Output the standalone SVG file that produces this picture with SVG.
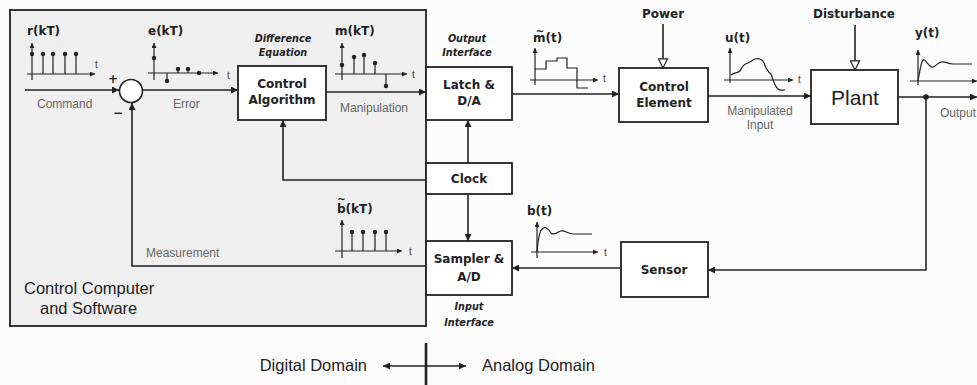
<svg xmlns="http://www.w3.org/2000/svg" width="977" height="385" viewBox="0 0 977 385">
<defs>
<marker id="ar" viewBox="0 0 10 10" refX="10" refY="5" markerWidth="9" markerHeight="7" markerUnits="userSpaceOnUse" orient="auto-start-reverse"><path d="M0,0 L10,5 L0,10 z" fill="#222"/></marker>
<marker id="sa" viewBox="0 0 10 10" refX="10" refY="5" markerWidth="7" markerHeight="5" markerUnits="userSpaceOnUse" orient="auto"><path d="M0,0 L10,5 L0,10 z" fill="#222"/></marker>
<marker id="oa" viewBox="0 0 12 12" refX="11" refY="6" markerWidth="11" markerHeight="11" markerUnits="userSpaceOnUse" orient="auto"><path d="M1,1 L11,6 L1,11 z" fill="#fff" stroke="#222" stroke-width="1.3"/></marker>
</defs>
<style>
.blk{fill:#fff;stroke:#222;stroke-width:1.8}
.cn{fill:none;stroke:#222;stroke-width:1.6;marker-end:url(#ar)}
.ax{fill:none;stroke:#222;stroke-width:1.2;marker-end:url(#sa)}
.sig{fill:none;stroke:#222;stroke-width:1.2}
.dot{fill:#222}
.b{font-family:"DejaVu Sans",sans-serif;font-weight:bold;font-size:12px;fill:#222;text-anchor:middle}
.bi{font-family:"DejaVu Sans",sans-serif;font-weight:bold;font-style:italic;font-size:9.7px;fill:#222;text-anchor:middle}
.g{font-family:"Liberation Sans",Arial,sans-serif;font-size:12px;fill:#666}
.gl{font-family:"DejaVu Sans",sans-serif;font-weight:bold;font-size:12px;fill:#222}
.tl{font-family:"DejaVu Sans",sans-serif;font-weight:bold;font-size:10px;fill:#222;text-anchor:middle}
.t{font-family:"Liberation Sans",Arial,sans-serif;font-size:10px;fill:#444}
.big{font-family:"Liberation Sans",Arial,sans-serif;font-size:16.5px;fill:#222}
</style>
<rect x="0" y="0" width="977" height="385" fill="#fcfcfc"/>
<rect id="computer" x="10" y="10" width="416" height="316" fill="#efefef" stroke="#222" stroke-width="1.8"/>

<g id="connectors">
<path class="cn" d="M25,90 H119"/>
<path class="cn" d="M143,90 H238"/>
<path class="cn" d="M326,92 H426"/>
<path class="cn" d="M512,94 H619"/>
<path class="cn" d="M708,96 H811"/>
<path class="cn" d="M898,97 H977"/>
<circle class="dot" cx="926" cy="97" r="2.8"/>
<path class="cn" d="M926,97 V270 H708"/>
<path class="cn" d="M621,268 H512"/>
<path class="cn" d="M426,266 H132 V103"/>
<path class="cn" d="M426,180 H283 V120"/>
<path class="cn" d="M468,163 V120"/>
<path class="cn" d="M468,194 V241"/>
<path d="M663,24 V68" fill="none" stroke="#222" stroke-width="1.6" marker-end="url(#oa)"/>
<path d="M855,25 V70" fill="none" stroke="#222" stroke-width="1.6" marker-end="url(#oa)"/>
</g>

<g id="sum">
<circle cx="131" cy="91" r="11.5" fill="#fff" stroke="#222" stroke-width="1.6"/>
<text x="113" y="83" class="gl" text-anchor="middle">+</text>
<text x="118" y="117" class="gl" text-anchor="middle">−</text>
</g>

<g id="algorithm">
<rect class="blk" x="238" y="66" width="88" height="54"/>
<text class="b" x="282" y="88">Control</text>
<text class="b" x="282" y="104">Algorithm</text>
<text class="bi" x="283" y="42">Difference</text>
<text class="bi" x="283" y="56">Equation</text>
</g>

<g id="latch">
<rect class="blk" x="426" y="67" width="86" height="53"/>
<text class="b" x="469" y="89">Latch &amp;</text>
<text class="b" x="469" y="105">D/A</text>
<text class="bi" x="467" y="42">Output</text>
<text class="bi" x="467" y="56">Interface</text>
</g>

<g id="clock">
<rect class="blk" x="426" y="163" width="86" height="31"/>
<text class="b" x="469" y="183">Clock</text>
</g>

<g id="sampler">
<rect class="blk" x="426" y="241" width="86" height="54"/>
<text class="b" x="469" y="263">Sampler &amp;</text>
<text class="b" x="469" y="281">A/D</text>
<text class="bi" x="469" y="310">Input</text>
<text class="bi" x="469" y="326">Interface</text>
</g>

<g id="control-element">
<rect class="blk" x="619" y="68" width="89" height="54"/>
<text class="b" x="664" y="91">Control</text>
<text class="b" x="664" y="107">Element</text>
<text class="b" x="663" y="18">Power</text>
</g>

<g id="plant">
<rect class="blk" x="811" y="70" width="87" height="54"/>
<text x="855" y="104.5" font-family="Liberation Sans, Arial, sans-serif" font-size="21" fill="#222" text-anchor="middle">Plant</text>
<text class="b" x="854" y="18">Disturbance</text>
</g>

<g id="sensor">
<rect class="blk" x="621" y="242" width="87" height="55"/>
<text class="b" x="664" y="274">Sensor</text>
</g>

<g id="labels">
<text class="g" x="37" y="108">Command</text>
<text class="g" x="173" y="108">Error</text>
<text class="g" x="374" y="112" text-anchor="middle">Manipulation</text>
<text class="g" x="760" y="115" text-anchor="middle">Manipulated</text>
<text class="g" x="760" y="129" text-anchor="middle">Input</text>
<text class="g" x="940" y="117">Output</text>
<text class="g" x="146" y="257">Measurement</text>
<text class="big" x="24" y="294">Control Computer</text>
<text class="big" x="40" y="314">and Software</text>
</g>

<g id="domain">
<path d="M383,366 H466" fill="none" stroke="#222" stroke-width="1.6" marker-start="url(#ar)" marker-end="url(#ar)"/>
<path d="M426,343 V385" stroke="#222" stroke-width="2.6"/>
<text class="big" x="367" y="371" text-anchor="end">Digital Domain</text>
<text class="big" x="482" y="371">Analog Domain</text>
</g>

<g id="graph-r">
<text class="gl" x="27" y="35">r(kT)</text>
<path class="ax" d="M32,80 V43"/>
<path class="ax" d="M27,74 H95"/>
<path class="sig" d="M43,74 V54 M53,74 V54 M65,74 V54 M76,74 V54"/>
<circle class="dot" cx="32" cy="54" r="2.2"/><circle class="dot" cx="43" cy="54" r="2.2"/><circle class="dot" cx="53" cy="54" r="2.2"/><circle class="dot" cx="65" cy="54" r="2.2"/><circle class="dot" cx="76" cy="54" r="2.2"/>
<text class="t" x="95" y="68">t</text>
</g>

<g id="graph-e">
<text class="gl" x="148" y="35">e(kT)</text>
<path class="ax" d="M154,80 V43"/>
<path class="ax" d="M148,73 H218"/>
<path class="sig" d="M167,73 V81 M178,73 V69 M188,73 V69"/>
<circle class="dot" cx="154" cy="58" r="2.2"/><circle class="dot" cx="167" cy="81" r="2.2"/><circle class="dot" cx="178" cy="69" r="2.2"/><circle class="dot" cx="188" cy="69" r="2.2"/><circle class="dot" cx="199" cy="73" r="2.2"/>
<text class="t" x="227" y="79">t</text>
</g>

<g id="graph-m">
<text class="gl" x="335" y="35">m(kT)</text>
<path class="ax" d="M342,80 V43"/>
<path class="ax" d="M335,74 H407"/>
<path class="sig" d="M354,74 V57 M364,74 V55 M375,74 V63 M386,74 V86"/>
<circle class="dot" cx="342" cy="65" r="2.2"/><circle class="dot" cx="354" cy="57" r="2.2"/><circle class="dot" cx="364" cy="55" r="2.2"/><circle class="dot" cx="375" cy="63" r="2.2"/><circle class="dot" cx="386" cy="86" r="2.2"/>
<text class="t" x="412" y="78">t</text>
</g>

<g id="graph-mt">
<text class="tl" x="540" y="35">~</text>
<text class="gl" x="533" y="42">m(t)</text>
<path class="ax" d="M535,85 V48"/>
<path class="ax" d="M530,80 H598"/>
<path class="sig" d="M535,69 H546 V61 H557 V58 H567 V68 H577 V88 H588"/>
<text class="t" x="603" y="82">t</text>
</g>

<g id="graph-u">
<text class="gl" x="725" y="42">u(t)</text>
<path class="ax" d="M730,83 V48"/>
<path class="ax" d="M724,80 H793"/>
<path class="sig" d="M731,75 C735,72 738,73 740,71 C742,66 744,64 748,63 C751,62 752,60 755,59 C759,58 762,59 764,63 C766,69 768,72 771,74 C773,80 775,87 778,89 C780,91 782,90 785,90"/>
<text class="t" x="798" y="83">t</text>
</g>

<g id="graph-y">
<text class="gl" x="915" y="37">y(t)</text>
<path class="ax" d="M918,85 V50"/>
<path class="ax" d="M910,81 H977"/>
<path class="sig" d="M918,81 C920,70 921,62 923,60 C925,58 928,66 932,67 C935,68 937,63 941,62 C945,61 947,64 953,64 H972"/>
</g>

<g id="graph-b">
<text class="tl" x="341.5" y="203">~</text>
<text class="gl" x="337" y="213">b(kT)</text>
<path class="ax" d="M342,258 V220"/>
<path class="ax" d="M335,251 H402"/>
<path class="sig" d="M352,251 V232 M363,251 V232 M375,251 V232 M386,251 V232"/>
<circle class="dot" cx="352" cy="232" r="2.2"/><circle class="dot" cx="363" cy="232" r="2.2"/><circle class="dot" cx="375" cy="232" r="2.2"/><circle class="dot" cx="386" cy="232" r="2.2"/>
<text class="t" x="409" y="255">t</text>
</g>

<g id="graph-bt">
<text class="gl" x="527" y="215">b(t)</text>
<path class="ax" d="M537,258 V222"/>
<path class="ax" d="M531,252 H598"/>
<path class="sig" d="M537,252 C538,240 539,232 542,229 C545,226 548,228 551,233 C554,236 557,232 561,231 C565,230 568,234 573,234 H592"/>
<text class="t" x="604" y="256">t</text>
</g>
</svg>
